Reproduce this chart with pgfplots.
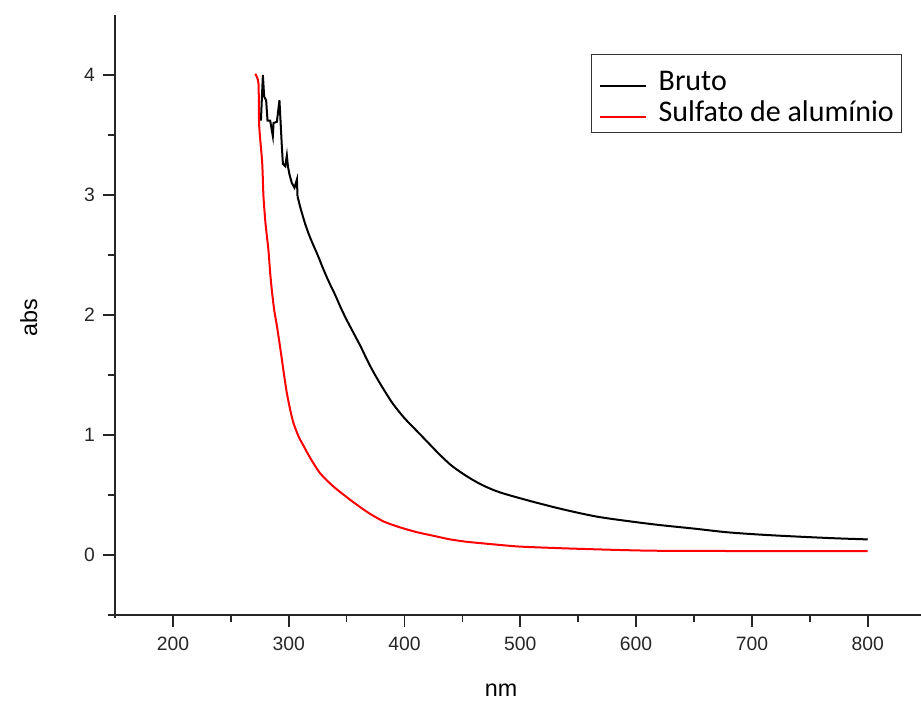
\documentclass[border=0pt]{standalone}
\usepackage{fontspec}
\setmainfont{Liberation Sans}
\newfontfamily\calibri{Carlito}
\usepackage{pgfplots}
\pgfplotsset{compat=1.18}
\begin{document}
\begin{tikzpicture}
\begin{axis}[
  at={(0,0)}, anchor=south west,
  scale only axis, width=604.5bp, height=450bp,
  xmin=150, xmax=846, ymin=-0.5, ymax=4.5,
  axis x line*=bottom, axis y line*=left,
  axis line style={-, line width=1.3bp, black!85},
  x axis line style={shorten <=-5bp},
  y axis line style={shorten <=-2bp},
  xtick={200,300,...,800}, ytick={0,1,2,3,4},
  minor x tick num=1, minor y tick num=1,
  tick align=outside,
  major tick length=9bp, minor tick length=5bp,
  every tick/.style={line width=1.3bp, black!85},
  /pgf/number format/assume math mode=true,
  ticklabel style={font=\fontsize{14.5bp}{16bp}\selectfont, text=black!85},
  xticklabel style={yshift=-4bp},
  yticklabel style={xshift=-2.5bp},
  xlabel={nm}, ylabel={abs},
  label style={font=\fontsize{17.5bp}{20bp}\selectfont},
  xlabel style={at={(axis description cs:0.479,-0.125)}, anchor=center},
  ylabel style={at={(axis description cs:-0.107,0.495)}, anchor=center},
  legend style={at={(axis description cs:0.977,0.9345)}, anchor=north east,
    draw=black!80, line width=0.8bp,
    font=\calibri\fontsize{22.5bp}{26bp}\selectfont,
    inner xsep=6bp, inner ysep=5.75bp, row sep=0bp, column sep=9bp,
    nodes={inner sep=0bp, text height=20.9bp, text depth=2.6bp},
    cells={anchor=base west}},
  legend image code/.code={\draw[#1] (0bp,3.5bp) -- (34bp,3.5bp);},
]
\addplot[black, line width=1.5bp] coordinates {
(276.0,3.62) (277.7,4.00) (278.8,3.82) (280.5,3.79) (281.7,3.62) (284.0,3.62)
(286.3,3.49) (286.9,3.60) (289.8,3.61) (292.0,3.79) (293.2,3.57) (294.1,3.40)
(295.0,3.26) (297.0,3.24) (298.4,3.33) (299.3,3.24) (300.7,3.17) (302.7,3.10)
(305.0,3.06) (307.1,3.13) (307.6,2.99)
};
\addlegendentry{Bruto}
\addplot[black, line width=1.5bp, smooth, tension=0.5, forget plot] coordinates {
(307.6,2.99) (309.9,2.90) (311.4,2.85) (314.2,2.76) (317.1,2.68) (320.0,2.61)
(325.0,2.50) (330.0,2.38) (335.0,2.27) (340.0,2.17) (345.0,2.06) (350.0,1.96)
(356.0,1.85) (362.0,1.74) (368.0,1.62) (374.0,1.51) (382.0,1.38) (390.0,1.26)
(400.0,1.14) (410.0,1.04) (420.0,0.94) (430.0,0.84) (440.0,0.75) (450.0,0.68)
(460.0,0.62) (470.0,0.57) (483.0,0.52) (508.5,0.45) (537.0,0.38) (566.0,0.32)
(595.0,0.28) (620.0,0.25) (650.0,0.22) (678.0,0.19) (707.0,0.17) (736.0,0.155)
(770.0,0.14) (800.0,0.13)
};
\addplot[red, line width=1.5bp, smooth, tension=0.4] coordinates {
(271.1,4.01) (273.9,3.93) (274.5,3.58) (277.1,3.27) (278.2,2.99) (279.9,2.77)
(282.5,2.54) (284.0,2.35) (285.5,2.20) (287.5,2.04) (289.8,1.91) (292.0,1.77)
(294.1,1.63) (296.3,1.48) (298.4,1.35) (301.3,1.21) (304.1,1.10) (308.4,0.99)
(312.8,0.91) (318.5,0.81) (327.2,0.68) (338.7,0.57) (353.1,0.46) (367.5,0.36)
(381.8,0.28) (396.2,0.23) (410.7,0.19) (425.0,0.16) (439.4,0.13) (453.8,0.11)
(475.4,0.09) (499.8,0.07) (545.9,0.053) (612.4,0.036) (700.0,0.033) (800.0,0.033)
};
\addlegendentry{Sulfato de alumínio}
\end{axis}
\pgfresetboundingbox
\path[use as bounding box] (-86.25bp,-69bp) rectangle (604.5bp,461.25bp);
\end{tikzpicture}
\end{document}
